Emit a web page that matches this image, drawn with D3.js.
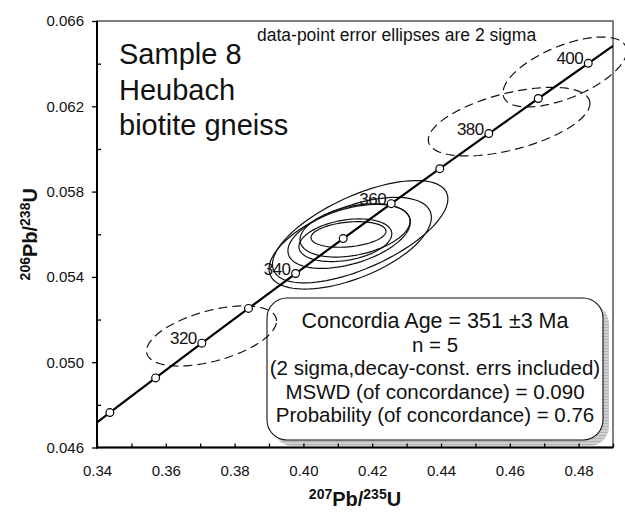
<!DOCTYPE html>
<html><head><meta charset="utf-8">
<script src="https://cdn.jsdelivr.net/npm/d3@7"></script>
<style>body{margin:0;background:#fff}svg{display:block;font-family:"Liberation Sans",Arial,sans-serif}</style>
</head><body>
<svg id="c" width="625" height="513"></svg>
<script>
// ---- data ----
const ages = [300,310,320,330,340,350,360,370,380,390,400];
const r75  = [0.34374,0.35704,0.37047,0.38403,0.39773,0.41156,0.42553,0.43964,0.45389,0.46828,0.48281];
const r68  = [0.047638,0.049264,0.050893,0.052524,0.054158,0.055795,0.057434,0.059075,0.060719,0.062366,0.064016];
const labelAges = [320,340,360,380,400];
const curveStart = [0.34, 0.04718];
const curveEnd   = [0.49, 0.06483];

// error ellipses: centre, 2-sigma half-widths, correlation
const ellX   = [0.3733, 0.4598, 0.4760, 0.4165, 0.4136, 0.4133, 0.4150, 0.4122, 0.4131];
const ellSX  = [0.0189, 0.0235, 0.0180, 0.0255, 0.0236, 0.0178, 0.0160, 0.0135, 0.0109];
const ellY   = [0.05123,0.06128,0.06361,0.05612,0.05558,0.05590,0.05618,0.05572,0.05599];
const ellSY  = [0.00141,0.00161,0.00164,0.00240,0.00215,0.00150,0.00125,0.00100,0.00060];
const ellRho = [0.50, 0.53, 0.60, 0.64, 0.56, 0.45, 0.35, 0.30, 0.25];
const ellDash= [true, true, true, false,false,false,false,false,false];

const xMajor = [0.34,0.36,0.38,0.40,0.42,0.44,0.46,0.48];
const xMinor = [0.35,0.37,0.39,0.41,0.43,0.45,0.47,0.49];
const yMajor = [0.046,0.050,0.054,0.058,0.062,0.066];
const yMinor = [0.048,0.052,0.056,0.060,0.064];

const titleLines = ["Sample 8","Heubach","biotite gneiss"];
const note = "data-point error ellipses are 2 sigma";
const boxLines = ["Concordia Age = 351 \u00b13 Ma","n = 5","(2 sigma,decay-const. errs included)","MSWD (of concordance) = 0.090","Probability (of concordance) = 0.76"];

// ---- layout ----
const L=97, R=613, T=21, B=447.5;
const svg = d3.select("#c");
const x = d3.scaleLinear().domain([0.34,0.49]).range([L,R]);
const y = d3.scaleLinear().domain([0.046,0.066]).range([B,T]);

const defs = svg.append("defs");
defs.append("clipPath").attr("id","pc")
  .append("rect").attr("x",L).attr("y",T).attr("width",R-L).attr("height",B-T);
const pat = defs.append("pattern").attr("id","sh").attr("patternUnits","userSpaceOnUse").attr("width",4).attr("height",3);
pat.append("rect").attr("width",4).attr("height",3).attr("fill","#cfcfcf");
pat.append("rect").attr("width",4).attr("height",1).attr("fill","#b4b4b4");

// frame
svg.append("rect").attr("x",L).attr("y",T).attr("width",R-L).attr("height",B-T)
  .attr("fill","none").attr("stroke","#555").attr("stroke-width",1.5);

// text box with shadow
const bx=267, by=298, bw=336, bh=142, rr=20;
svg.append("rect").attr("x",bx+6).attr("y",by+6).attr("width",bw).attr("height",bh)
  .attr("rx",rr).attr("fill","url(#sh)");
svg.append("rect").attr("x",bx).attr("y",by).attr("width",bw).attr("height",bh)
  .attr("rx",rr).attr("fill","#fff").attr("stroke","#111").attr("stroke-width",1.1);
const bt = svg.append("text").attr("font-size",20.5).attr("text-anchor","middle").attr("fill","#111");
boxLines.forEach((s,i)=>bt.append("tspan").attr("x",bx+bw/2).attr("y",328+i*23.5)
  .attr("font-size",i===0?21.5:20.5).text(s));

// ellipses
const ell = d3.range(ellX.length).map(i=>{
  const pts=[]; const rho=ellRho[i], k=Math.sqrt(1-rho*rho);
  for(let j=0;j<96;j++){const t=j/96*2*Math.PI;
    pts.push([x(ellX[i]+ellSX[i]*Math.cos(t)), y(ellY[i]+ellSY[i]*(rho*Math.cos(t)+k*Math.sin(t)))]);}
  return {pts,dash:ellDash[i]};
});
svg.append("g").selectAll("path").data(ell).join("path")
  .attr("d",d=>d3.line().curve(d3.curveLinearClosed)(d.pts))
  .attr("fill","none").attr("stroke","#111").attr("stroke-width",1.2)
  .attr("stroke-dasharray",d=>d.dash?"9,5":null);

// concordia
const cpts = [curveStart].concat(r75.map((v,i)=>[v,r68[i]])).concat([curveEnd]);
svg.append("path").attr("clip-path","url(#pc)")
  .attr("d",d3.line().x(d=>x(d[0])).y(d=>y(d[1])).curve(d3.curveMonotoneX)(cpts))
  .attr("fill","none").attr("stroke","#000").attr("stroke-width",2.2);
svg.append("g").selectAll("circle").data(ages.map((a,i)=>({a,x:r75[i],y:r68[i]}))).join("circle")
  .attr("cx",d=>x(d.x)).attr("cy",d=>y(d.y)).attr("r",3.9)
  .attr("fill","#fff").attr("stroke","#000").attr("stroke-width",1.2);
svg.append("g").selectAll("text").data(ages.map((a,i)=>({a,x:r75[i],y:r68[i]})).filter(d=>labelAges.includes(d.a))).join("text")
  .attr("x",d=>x(d.x)-5).attr("y",d=>y(d.y)+1).attr("text-anchor","end")
  .attr("font-size",17).attr("letter-spacing",-0.5).attr("fill","#111").text(d=>d.a);

// axes
svg.append("g").attr("transform",`translate(0,${B})`)
  .call(d3.axisBottom(x).tickValues(xMajor).tickSize(-4).tickPadding(18).tickFormat(d3.format(".2f")));
svg.append("g").attr("transform",`translate(0,${B})`)
  .call(d3.axisBottom(x).tickValues(xMinor).tickSize(-4).tickFormat(""));
svg.append("g").attr("transform",`translate(${L},0)`)
  .call(d3.axisLeft(y).tickValues(yMajor).tickSize(5).tickPadding(8).tickFormat(d3.format(".3f")));
svg.append("g").attr("transform",`translate(${L},0)`)
  .call(d3.axisLeft(y).tickValues(yMinor).tickSize(-4).tickFormat(""));
svg.selectAll(".domain").remove();
svg.selectAll(".tick line").attr("stroke","#000").attr("stroke-width",1.3);
svg.selectAll(".tick text").attr("font-size",15).attr("font-family","Liberation Sans, Arial, sans-serif").attr("fill","#111");
svg.append("line").attr("x1",L).attr("x2",L).attr("y1",T).attr("y2",B+1).attr("stroke","#000").attr("stroke-width",2);
svg.append("line").attr("x1",L-1).attr("x2",R).attr("y1",B).attr("y2",B).attr("stroke","#000").attr("stroke-width",2);

// axis titles
const xt = svg.append("text").attr("x",(L+R)/2).attr("y",506).attr("text-anchor","middle")
  .attr("font-weight","bold").attr("font-size",20).attr("fill","#111");
xt.append("tspan").attr("font-size",14).attr("dy",-7).text("207");
xt.append("tspan").attr("dy",7).text("Pb/");
xt.append("tspan").attr("font-size",14).attr("dy",-7).text("235");
xt.append("tspan").attr("dy",7).text("U");
const yt = svg.append("text").attr("transform",`translate(37,${(T+B)/2}) rotate(-90)`).attr("text-anchor","middle")
  .attr("font-weight","bold").attr("font-size",20).attr("fill","#111");
yt.append("tspan").attr("font-size",14).attr("dy",-7).text("206");
yt.append("tspan").attr("dy",7).text("Pb/");
yt.append("tspan").attr("font-size",14).attr("dy",-7).text("238");
yt.append("tspan").attr("dy",7).text("U");

// labels
const st = svg.append("text").attr("font-size",29).attr("fill","#111");
titleLines.forEach((s,i)=>st.append("tspan").attr("x",119).attr("y",64+i*35.5).text(s));
svg.append("text").attr("x",257).attr("y",41).attr("font-size",17.5).attr("fill","#111").text(note);
</script>
</body></html>
